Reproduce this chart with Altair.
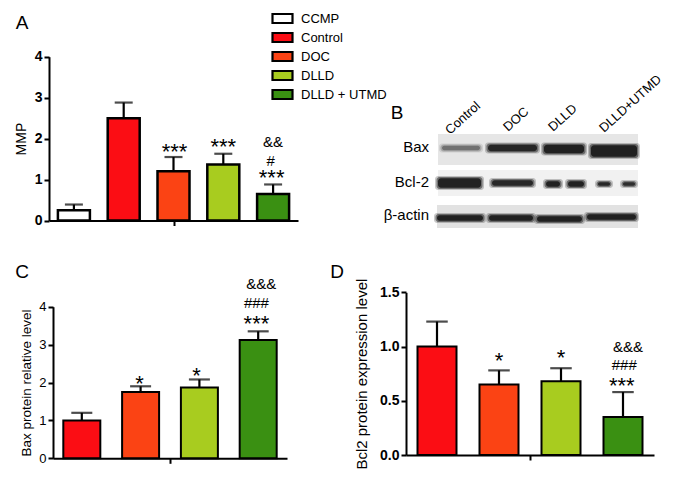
import altair as alt
import pandas as pd

FONT = "Liberation Sans"
groups = ["CCMP", "Control", "DOC", "DLLD", "DLLD + UTMD"]
colors = ["#ffffff", "#fb0d14", "#fb4314", "#a8cc1f", "#3a9012"]

a_groups = groups
a_values = [0.25, 2.5, 1.2, 1.37, 0.65]
a_tops = [0.39, 2.88, 1.55, 1.63, 0.88]
a_notes = ["***", "***", "***", "#", "&&"]
a_note_x = [2.02, 3.0, 3.97, 3.95, 4.0]
a_note_y = [1.79, 1.91, 1.16, 1.45, 1.91]

c_groups = groups[1:]
c_values = [1.0, 1.75, 1.87, 3.12]
c_tops = [1.2, 1.9, 2.08, 3.35]
c_notes = ["*", "*", "***", "###", "&&&"]
c_note_x = [0.98, 1.95, 2.97, 2.97, 3.05]
c_note_y = [2.09, 2.31, 3.67, 4.09, 4.6]

d_groups = groups[1:]
d_values = [1.0, 0.65, 0.68, 0.35]
d_tops = [1.23, 0.78, 0.80, 0.58]
d_notes = ["*", "*", "***", "###", "&&&"]
d_note_x = [1.0, 2.0, 2.98, 3.02, 3.08]
d_note_y = [0.916, 0.944, 0.68, 0.83, 1.0]

# Western blot, read in picture units
blot_bg_x0 = [438, 438, 437]
blot_bg_x1 = [638, 638, 638]
blot_bg_y0 = [134, 170, 205]
blot_bg_y1 = [165, 196, 228]
blot_bg_tone = ["#e6e6e6", "#f1f1f1", "#e2e2e2"]

band_x0 = [442, 488, 544, 591, 438, 492, 546, 568, 598, 623, 437, 489, 537, 587]
band_x1 = [480, 537, 584, 637, 481, 533, 560, 584, 610, 635, 483, 533, 582, 636]
band_cy = [148, 148, 149, 151, 183, 183, 184, 184, 184, 184, 218, 218, 219, 217]
band_h = [7, 9, 11, 14, 12, 8, 8, 8, 6, 6, 8, 8, 8, 8]
band_dark = [0.45, 0.95, 1, 1, 1, 0.95, 1, 1, 0.95, 0.9, 1, 1, 1, 1]

row_labels = ["Bax", "Bcl-2", "β-actin"]
row_label_x = [429, 429, 429]
row_label_y = [147, 182, 215]
lane_labels = ["Control", "DOC", "DLLD", "DLLD+UTMD"]
lane_label_x = [450, 508, 553, 604]
lane_label_y = [135, 132, 132, 133]
panel_labels = ["A", "B", "C", "D"]
panel_label_x = [22, 397, 22, 337]
panel_label_y = [23, 113, 272, 272]

W, H = 659, 472
color_scale = alt.Scale(domain=groups, range=colors)


def panel(names, values, tops, notes, note_x, note_y, yticks, yfmt, ydomain, ypx, xpx,
          title, bar, cap, bold, legend=None, title_pad=8, stroke=2.5, title_size=14, label_size=13):
    n = len(names)
    x_scale = alt.Scale(domain=[xpx[2], xpx[3]], range=[xpx[0] - 8, xpx[1] - 8], nice=False, zero=False, padding=0)
    y_scale = alt.Scale(domain=ydomain, range=[ypx[0] - 8, ypx[1] - 8], nice=False, zero=False, padding=0)
    x_axis = alt.Axis(orient="bottom", offset=ypx[0] - 8 - H, values=[(n - 1) / 2], labels=False,
                      title=None, grid=False, domainColor="black", domainWidth=2,
                      tickColor="black", tickWidth=2, tickSize=5)
    y_axis = alt.Axis(orient="left", offset=-(xpx[0] - 8), values=yticks, format=yfmt, title=title,
                      grid=False, domainColor="black", domainWidth=2, tickColor="black", tickWidth=2,
                      tickSize=5, labelFont=FONT, labelFontSize=label_size, labelColor="black",
                      labelFontWeight="bold" if bold else "normal", labelPadding=2,
                      titleFont=FONT, titleFontSize=title_size, titleFontWeight="normal", titleColor="black",
                      titlePadding=title_pad)
    X = alt.X("i:Q", scale=x_scale, axis=x_axis)
    Y = alt.Y("v:Q", scale=y_scale, axis=y_axis)
    df = pd.DataFrame({"i": list(range(n)), "group": names, "v": values, "top": tops})
    notes_df = pd.DataFrame({"i": note_x, "v": note_y, "t": notes})
    stars = notes_df[notes_df["t"].str.startswith("*")]
    others = notes_df[~notes_df["t"].str.startswith("*")]
    color = alt.Color("group:N", scale=color_scale, legend=legend)
    rules = alt.Chart(df).mark_rule(color="black", strokeWidth=2.2).encode(x=X, y=Y, y2="top:Q")
    caps = alt.Chart(df).mark_tick(color="black", orient="horizontal", size=cap, thickness=2.2).encode(
        x=X, y=alt.Y("top:Q", scale=y_scale, axis=y_axis))
    bars = alt.Chart(df).mark_bar(size=bar, stroke="black", strokeWidth=stroke, orient="vertical").encode(
        x=X, y=Y, color=color)
    text1 = alt.Chart(stars).mark_text(font=FONT, fontSize=22, dy=5, color="black", baseline="middle").encode(
        x=X, y=Y, text="t:N")
    text2 = alt.Chart(others).mark_text(font=FONT, fontSize=15, color="black", baseline="middle").encode(
        x=X, y=Y, text="t:N")
    return alt.layer(rules, caps, bars, text1, text2)


legend_a = alt.Legend(orient="none", legendX=273 - 8, legendY=9 - 8, title=None, labelFont=FONT, labelFontSize=13,
                      labelColor="black", symbolType="M-1.25,-0.56H1.25V0.56H-1.25Z", symbolSize=256,
                      symbolStrokeColor="black", symbolStrokeWidth=2.2, symbolOpacity=1, rowPadding=0, labelOffset=9)

pa = panel(a_groups, a_values, a_tops, a_notes, a_note_x, a_note_y, [0, 1, 2, 3, 4], "d", [0, 4],
           (220.5, 56.7), (49, 298, -0.5, 4.5), "MMP", 32, 18, True, legend=legend_a, title_pad=6, label_size=14)
pc = panel(c_groups, c_values, c_tops, c_notes, c_note_x, c_note_y, [0, 1, 2, 3, 4], "d", [0, 4],
           (458.3, 306.7), (53, 287, -0.49, 3.49), "Bax protein relative level", 37, 21, False, title_pad=5, stroke=2,
           title_size=13.5)
pd_ = panel(d_groups, d_values, d_tops, d_notes, d_note_x, d_note_y, [0, 0.5, 1, 1.5], ".1f", [0, 1.5],
            (455, 292.3), (406, 654, -0.5, 3.5), "Bcl2 protein expression level", 39, 21.5, True, title_pad=10, stroke=2,
            title_size=15, label_size=14)

# picture-unit scales for the blot and its labels
px = alt.Scale(domain=[0, 675], range=[-8, 667], nice=False, zero=False, padding=0)
py = alt.Scale(domain=[0, 488], range=[-8, 480], nice=False, zero=False, padding=0)
X = alt.X("x:Q", scale=px, axis=None)
Y = alt.Y("y:Q", scale=py, axis=None)

bg = pd.DataFrame({"x": blot_bg_x0, "x2": blot_bg_x1, "y": blot_bg_y0, "y2": blot_bg_y1, "c": blot_bg_tone})
bg_layer = alt.Chart(bg).mark_rect().encode(x=X, x2="x2:Q", y=Y, y2="y2:Q", color=alt.Color("c:N", scale=None))

spreads = [(3, 2, 0.22), (1.5, 0, 0.45), (0, -2.5, 0.75)]
rows = []
for x0, x1, cy, h, dk in zip(band_x0, band_x1, band_cy, band_h, band_dark):
    for sx, sy, op in spreads:
        rows.append({"x": x0 - sx, "x2": x1 + sx, "y": cy - (h + sy) / 2, "y2": cy + (h + sy) / 2, "o": op * dk})
band_layer = alt.Chart(pd.DataFrame(rows)).mark_rect(color="#0a0a0a", cornerRadius=3).encode(
    x=X, x2="x2:Q", y=Y, y2="y2:Q", opacity=alt.Opacity("o:Q", scale=None))

row_text = alt.Chart(pd.DataFrame({"x": row_label_x, "y": row_label_y, "t": row_labels})).mark_text(
    font=FONT, fontSize=15, align="right", baseline="middle", color="black").encode(x=X, y=Y, text="t:N")
lane_text = alt.Chart(pd.DataFrame({"x": lane_label_x, "y": lane_label_y, "t": lane_labels})).mark_text(
    font=FONT, fontSize=13, align="left", baseline="alphabetic", angle=318, color="black").encode(x=X, y=Y, text="t:N")
letter_text = alt.Chart(pd.DataFrame({"x": panel_label_x, "y": panel_label_y, "t": panel_labels})).mark_text(
    font=FONT, fontSize=19, align="center", baseline="middle", color="black").encode(x=X, y=Y, text="t:N")
blot = alt.layer(bg_layer, band_layer, row_text, lane_text, letter_text)

chart = alt.layer(blot, pa, pc, pd_).resolve_scale(x="independent", y="independent", color="independent").properties(
    width=W, height=H, padding=0, autosize=alt.AutoSizeParams(type="none")
).configure_view(stroke=None)

chart.save("out.html", embed_options={"renderer": "svg", "actions": False})
